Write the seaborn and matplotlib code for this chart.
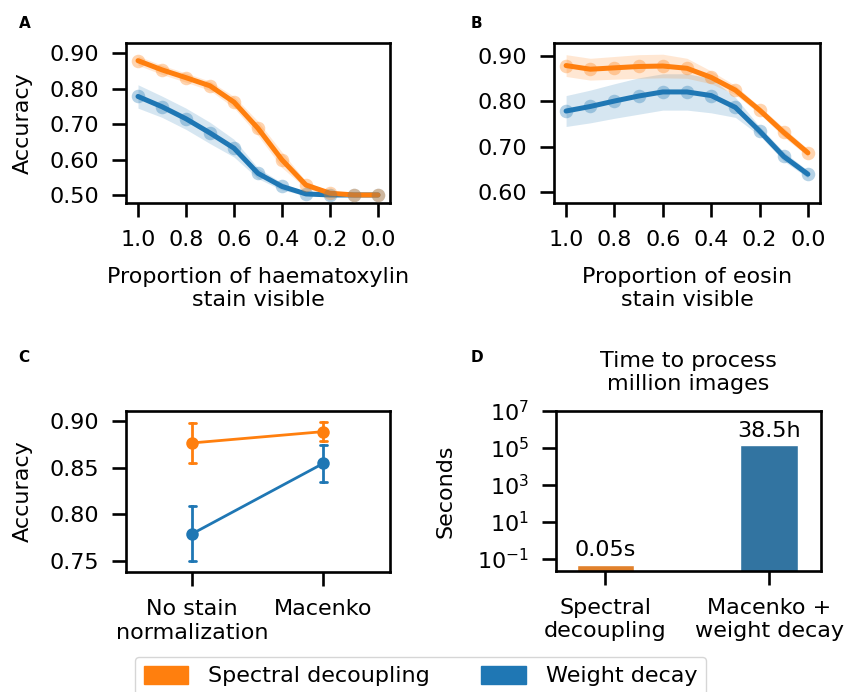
import numpy as np
import pandas as pd
import matplotlib
matplotlib.use("Agg")
import matplotlib.pyplot as plt
from matplotlib.patches import Patch
from matplotlib.ticker import FormatStrFormatter, NullLocator
import seaborn as sns

sns.set_theme(style="ticks")
plt.rcParams["font.family"] = ["DejaVu Sans"]
plt.rcParams.update({"text.color": "black", "axes.labelcolor": "black",
                     "xtick.color": "black", "ytick.color": "black"})

FS = 16
ORANGE = "#ff7f0e"
BLUE = "#1f77b4"

# ---------------- data ----------------
proportion = [1.0, 0.9, 0.8, 0.7, 0.6, 0.5, 0.4, 0.3, 0.2, 0.1, 0.0]

# Panel A: haematoxylin
a_sd_mean = [0.879, 0.853, 0.831, 0.808, 0.762, 0.688, 0.599, 0.528, 0.505, 0.500, 0.500]
a_sd_err = [0.013, 0.013, 0.013, 0.013, 0.016, 0.020, 0.022, 0.010, 0.005, 0.004, 0.004]
a_wd_mean = [0.778, 0.749, 0.715, 0.675, 0.632, 0.561, 0.524, 0.503, 0.500, 0.500, 0.500]
a_wd_err = [0.033, 0.030, 0.030, 0.030, 0.025, 0.015, 0.010, 0.005, 0.004, 0.004, 0.004]

# Panel B: eosin
b_sd_mean = [0.879, 0.871, 0.874, 0.877, 0.878, 0.873, 0.853, 0.825, 0.781, 0.732, 0.687]
b_sd_err = [0.024, 0.024, 0.025, 0.026, 0.026, 0.022, 0.014, 0.010, 0.008, 0.010, 0.008]
b_wd_mean = [0.779, 0.789, 0.801, 0.812, 0.821, 0.821, 0.813, 0.787, 0.735, 0.679, 0.640]
b_wd_err = [0.034, 0.036, 0.038, 0.040, 0.040, 0.040, 0.038, 0.022, 0.010, 0.010, 0.008]

# Panel C: stain normalization
c_categories = ["No stain\nnormalization", "Macenko"]
c_sd_mean = [0.8765, 0.8886]
c_sd_err = [0.0217, 0.0098]
c_wd_mean = [0.7793, 0.8546]
c_wd_err = [0.0293, 0.0197]

# Panel D: processing time
d_categories = ["Spectral\ndecoupling", "Macenko +\nweight decay"]
d_seconds = [0.05, 38.5 * 3600]
d_labels = ["0.05s", "38.5h"]

methods = ["Spectral decoupling", "Weight decay"]
palette = {"Spectral decoupling": ORANGE, "Weight decay": BLUE}

# ---------------- figure ----------------
W, H = 848, 692
fig = plt.figure(figsize=(W / 100, H / 100), dpi=100)


def ax_px(left, top, right, bottom):
    return fig.add_axes([left / W, 1 - bottom / H, (right - left) / W, (bottom - top) / H])


axA = ax_px(126, 43.3, 390, 203.3)
axB = ax_px(554, 43.3, 820, 203.3)
axC = ax_px(126, 410.7, 390, 572.3)
axD = ax_px(556.3, 411, 820.7, 570.7)


def style(ax):
    for s in ax.spines.values():
        s.set_linewidth(1.9)
        s.set_color("black")
    ax.tick_params(length=10, width=1.9, labelsize=FS, color="black", pad=9.5)


def curve_panel(ax, sd_m, sd_e, wd_m, wd_e):
    for name, m, e in [("Weight decay", wd_m, wd_e), ("Spectral decoupling", sd_m, sd_e)]:
        m = np.array(m)
        e = np.array(e)
        df = pd.DataFrame({
            "x": proportion + proportion,
            "y": np.concatenate([m - e, m + e]),
        })
        sns.lineplot(data=df, x="x", y="y", ax=ax, color=palette[name], linewidth=3.6,
                     estimator="mean", errorbar=lambda v: (v.min(), v.max()),
                     err_kws={"alpha": 0.18, "linewidth": 0})
        pts = pd.DataFrame({"x": proportion, "y": m})
        sns.scatterplot(data=pts, x="x", y="y", ax=ax, color=palette[name], s=95,
                        alpha=0.33, linewidth=0, zorder=3)
    ax.set_xlim(1.05, -0.05)
    ax.set_xticks([1.0, 0.8, 0.6, 0.4, 0.2, 0.0])
    ax.xaxis.set_major_formatter(FormatStrFormatter("%.1f"))
    ax.yaxis.set_major_formatter(FormatStrFormatter("%.2f"))


# Panel A
curve_panel(axA, a_sd_mean, a_sd_err, a_wd_mean, a_wd_err)
axA.set_ylim(0.4765, 0.928)
axA.set_yticks([0.5, 0.6, 0.7, 0.8, 0.9])
axA.set_xlabel("Proportion of haematoxylin\nstain visible", fontsize=FS, labelpad=12)
axA.set_ylabel("Accuracy", fontsize=FS, labelpad=12)
style(axA)

# Panel B
curve_panel(axB, b_sd_mean, b_sd_err, b_wd_mean, b_wd_err)
axB.set_ylim(0.576, 0.928)
axB.set_yticks([0.6, 0.7, 0.8, 0.9])
axB.set_xlabel("Proportion of eosin\nstain visible", fontsize=FS, labelpad=12)
axB.set_ylabel("")
style(axB)

# Panel C
rows = []
for name, means, errs in [("Spectral decoupling", c_sd_mean, c_sd_err),
                          ("Weight decay", c_wd_mean, c_wd_err)]:
    for cat, m, e in zip(c_categories, means, errs):
        rows.append({"cat": cat, "method": name, "acc": m - e})
        rows.append({"cat": cat, "method": name, "acc": m + e})
dfc = pd.DataFrame(rows)
sns.pointplot(data=dfc, x="cat", y="acc", hue="method", hue_order=methods,
              order=c_categories, palette=palette, ax=axC, estimator="mean",
              errorbar=lambda v: (v.min(), v.max()), capsize=0.05,
              markersize=7.5, linewidth=2.0, err_kws={"linewidth": 2.0}, legend=False)
axC.set_xlim(-0.506, 1.509)
axC.set_ylim(0.738, 0.911)
axC.set_yticks([0.75, 0.80, 0.85, 0.90])
axC.yaxis.set_major_formatter(FormatStrFormatter("%.2f"))
axC.set_xlabel("")
axC.set_ylabel("Accuracy", fontsize=FS, labelpad=12)
style(axC)

# Panel D
dfd = pd.DataFrame({"cat": d_categories, "sec": d_seconds, "method": methods})
axD.set_yscale("log")
sns.barplot(data=dfd, x="cat", y="sec", hue="method", hue_order=methods, palette=palette,
            order=d_categories, ax=axD, width=0.35, legend=False, dodge=False)
for cont, lab in zip(axD.containers, d_labels):
    axD.bar_label(cont, labels=[lab], padding=3, fontsize=FS)
axD.set_xlim(-0.3, 1.315)
axD.set_ylim(10 ** -1.63, 1e7)
axD.set_yticks([1e-1, 1e1, 1e3, 1e5, 1e7])
axD.yaxis.set_minor_locator(NullLocator())
axD.set_xlabel("")
axD.set_ylabel("Seconds", fontsize=FS, labelpad=16)
axD.set_title("Time to process\nmillion images", fontsize=FS, pad=15)
style(axD)

# panel letters
for letter, x, y in [("A", 24.5, 24), ("B", 476.5, 23), ("C", 24, 357), ("D", 477, 357.5)]:
    fig.text(x / W, 1 - y / H, letter, fontsize=11, fontweight="bold", ha="center", va="center")

# legend
handles = [Patch(facecolor=ORANGE, edgecolor=ORANGE), Patch(facecolor=BLUE, edgecolor=BLUE)]
fig.legend(handles, methods, ncol=2, loc="upper left", bbox_to_anchor=(135 / W, 1 - 657 / H),
           borderaxespad=0, fontsize=FS, frameon=True, handletextpad=0.9,
           columnspacing=2.3, handleheight=0.85)

fig.savefig("out.png", dpi=100)
